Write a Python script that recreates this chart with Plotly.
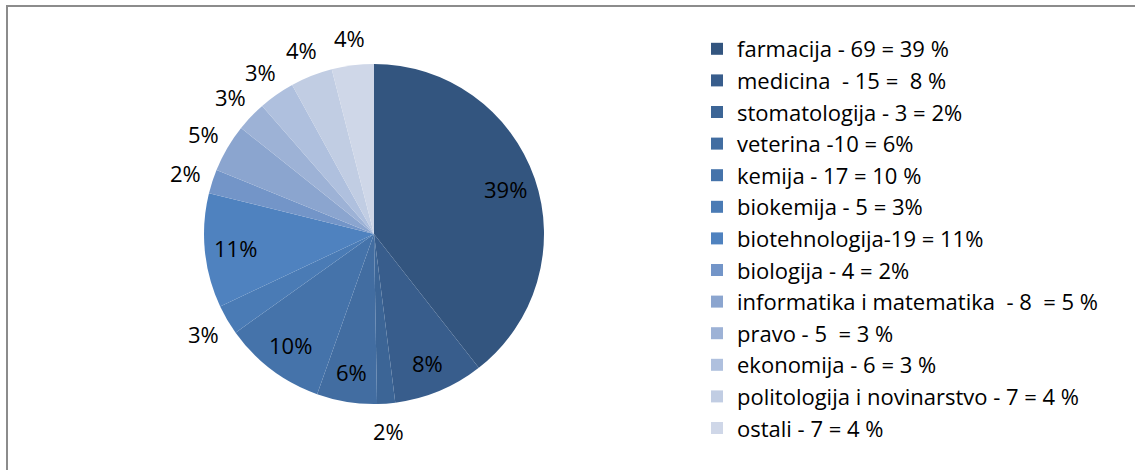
import math
import plotly.graph_objects as go

categories = [
    "farmacija - 69 = 39 %",
    "medicina  - 15 =  8 %",
    "stomatologija - 3 = 2%",
    "veterina -10 = 6%",
    "kemija - 17 = 10 %",
    "biokemija - 5 = 3%",
    "biotehnologija-19 = 11%",
    "biologija - 4 = 2%",
    "informatika i matematika  - 8  = 5 %",
    "pravo - 5  = 3 %",
    "ekonomija - 6 = 3 %",
    "politologija i novinarstvo - 7 = 4 %",
    "ostali - 7 = 4 %",
]
values = [69, 15, 3, 10, 17, 5, 19, 4, 8, 5, 6, 7, 7]
pct_labels = ["39%", "8%", "2%", "6%", "10%", "3%", "11%", "2%", "5%", "3%", "3%", "4%", "4%"]
label_inside = [True, True, False, True, True, False, True, False, False, False, False, False, False]
colors = ["#33557F", "#385D8C", "#3C6596", "#426DA1", "#4573AA", "#4A7BB5", "#4F82BF",
          "#7395C8", "#8BA5CF", "#9DB2D6", "#AFC0DE", "#C1CDE3", "#CFD7E8"]

FONT = "'Open Sans', sans-serif"
FS = 22
W, H = 1135, 470
cx, cy, r = 374, 234, 170

fig = go.Figure(go.Pie(
    labels=categories,
    values=values,
    textinfo="none",
    sort=False,
    direction="clockwise",
    rotation=0,
    marker=dict(colors=colors, line=dict(width=0)),
    domain=dict(x=[(cx - r) / W, (cx + r) / W], y=[(H - cy - r) / H, (H - cy + r) / H]),
    showlegend=True,
    hoverinfo="label+value+percent",
))

# data labels placed at each slice's mid-angle (clockwise from 12 o'clock)
total = sum(values)
annotations = []
cum = 0.0
for v, txt, inside in zip(values, pct_labels, label_inside):
    mid = (cum + v / 2) / total * 2 * math.pi
    cum += v
    rad = r * 0.82 if inside else r + 28
    px = cx + rad * math.sin(mid)
    py = cy - rad * math.cos(mid)
    annotations.append(dict(
        x=px / W, y=1 - py / H, xref="paper", yref="paper",
        text=txt, showarrow=False, xanchor="center", yanchor="middle",
        font=dict(family=FONT, size=FS, color="black"),
    ))

fig.update_layout(
    width=W, height=H,
    margin=dict(l=0, r=0, t=0, b=0, autoexpand=False),
    paper_bgcolor="white",
    font=dict(family=FONT, size=FS, color="black"),
    legend=dict(
        x=697 / W, y=1 - 28 / H, xanchor="left", yanchor="top",
        font=dict(family=FONT, size=FS, color="black"),
        itemwidth=30,
        bgcolor="rgba(0,0,0,0)",
    ),
    annotations=annotations,
    shapes=[dict(type="rect", xref="paper", yref="paper",
                 x0=7 / W, x1=1.05, y0=-0.05, y1=1 - 6 / H,
                 line=dict(color="#8C8C8C", width=2), fillcolor="rgba(0,0,0,0)")],
)

fig.write_html("out.html", config={"displayModeBar": False},
               post_script="document.body.style.margin='0';")
